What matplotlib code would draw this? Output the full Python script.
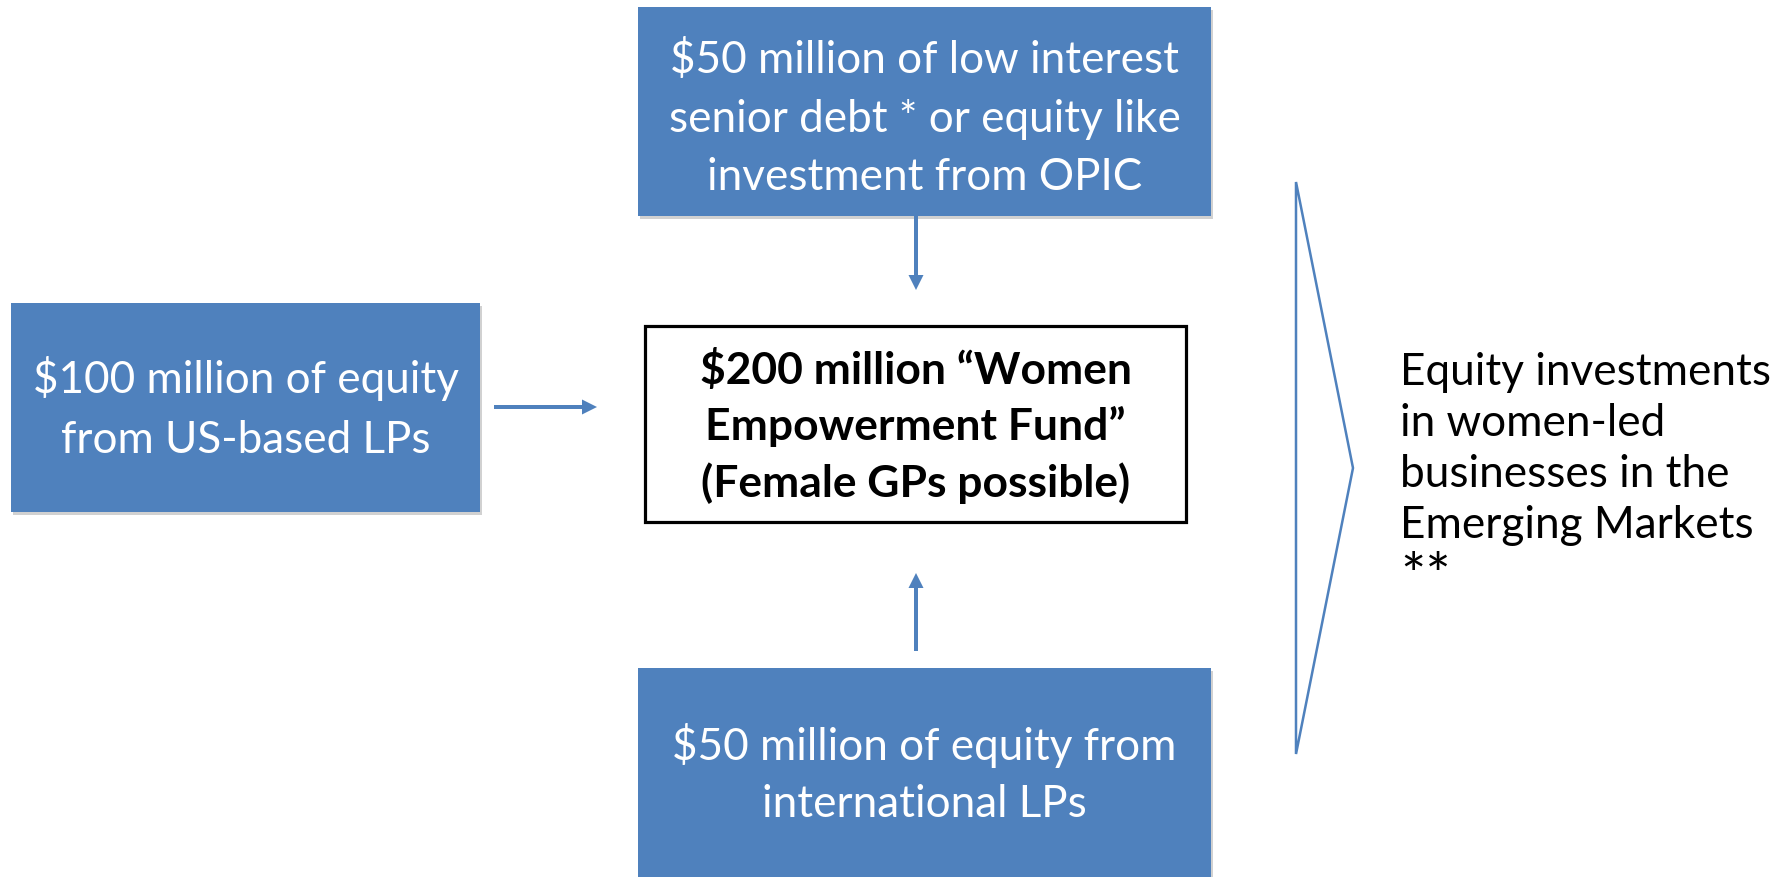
import matplotlib
matplotlib.use("Agg")
import matplotlib.pyplot as plt
from matplotlib.patches import Rectangle, FancyArrow, Polygon

W, H = 1785, 877
BLUE = "#4F81BD"
FONT = "Lato"

# ---- content ----
top_lines = ["$50 million of low interest", "senior debt * or equity like", "investment from OPIC"]
left_lines = ["$100 million of equity", "from US-based LPs"]
bottom_lines = ["$50 million of equity from", "international LPs"]
center_lines = ["$200 million \u201cWomen", "Empowerment Fund\u201d", "(Female GPs possible)"]
right_lines = ["Equity investments", "in women-led", "businesses in the", "Emerging Markets"]
right_note = "**"

# ---- geometry (pixels, y downward) ----
top_box = (638, 7, 1211, 216)
left_box = (11, 303, 480, 512)
bottom_box = (638, 668, 1211, 890)
center_box = (645, 326, 1186, 522)

top_base = [73, 132, 190]
left_base = [393, 453]
bottom_base = [760, 817]
center_base = [384, 440, 497]
right_base = [385, 436, 487, 538]
note_base = 596

fig = plt.figure(figsize=(W / 100, H / 100), dpi=100)
ax = fig.add_axes([0, 0, 1, 1])
ax.set_xlim(0, W)
ax.set_ylim(H, 0)
ax.axis("off")
fig.canvas.draw()
renderer = fig.canvas.get_renderer()


def fit_size(line, target, weight="normal"):
    t = ax.text(0, 0, line, fontsize=20, family=FONT, weight=weight)
    w = t.get_window_extent(renderer=renderer).width
    t.remove()
    return 20 * target / w


def blue_box(b):
    x0, y0, x1, y1 = b
    ax.add_patch(Rectangle((x0 + 2, y0 + 3), x1 - x0, y1 - y0, facecolor="#000000",
                           alpha=0.18, edgecolor="none", zorder=1))
    ax.add_patch(Rectangle((x0, y0), x1 - x0, y1 - y0, facecolor=BLUE,
                           edgecolor="none", zorder=2))


for b in (top_box, left_box, bottom_box):
    blue_box(b)

x0, y0, x1, y1 = center_box
ax.add_patch(Rectangle((x0, y0), x1 - x0, y1 - y0, facecolor="white",
                       edgecolor="black", linewidth=2.3, zorder=2))


def lines(txts, bases, cx, size, color, weight="normal", ha="center"):
    for s, yb in zip(txts, bases):
        ax.text(cx, yb, s, fontsize=size, family=FONT, weight=weight, color=color,
                ha=ha, va="baseline", zorder=5)


s_top = fit_size(top_lines[1], 516)
s_left = fit_size(left_lines[0], 425)
s_bot = fit_size(bottom_lines[0], 504)
s_reg = (s_top + s_left + s_bot) / 3
s_center = fit_size(center_lines[2], 429, weight="bold")
s_right = fit_size(right_lines[0], 372)

lines(top_lines, top_base, (top_box[0] + top_box[2]) / 2, s_reg, "white")
lines(left_lines, left_base, (left_box[0] + left_box[2]) / 2, s_reg, "white")
lines(bottom_lines, bottom_base, (bottom_box[0] + bottom_box[2]) / 2, s_reg, "white")
lines(center_lines, center_base, (center_box[0] + center_box[2]) / 2, s_center, "black", weight="bold")
lines(right_lines, right_base, 1400, s_right, "black", ha="left")
ax.text(1400, note_base, right_note, fontsize=s_right * 1.35, family=FONT, color="black",
        ha="left", va="baseline", zorder=5)

# ---- arrows ----
akw = dict(width=4, head_width=15, head_length=15, length_includes_head=True,
           color=BLUE, linewidth=0, zorder=4)
ax.add_patch(FancyArrow(916, 216, 0, 290 - 216, **akw))
ax.add_patch(FancyArrow(916, 651, 0, 573 - 651, **akw))
ax.add_patch(FancyArrow(494, 407, 597 - 494, 0, **akw))

# ---- chevron ----
ax.add_patch(Polygon([(1296, 182), (1353, 468), (1296, 754)], closed=True,
                     fill=False, edgecolor=BLUE, linewidth=1.8, joinstyle="miter", zorder=3))

fig.savefig("out.png", dpi=100)
